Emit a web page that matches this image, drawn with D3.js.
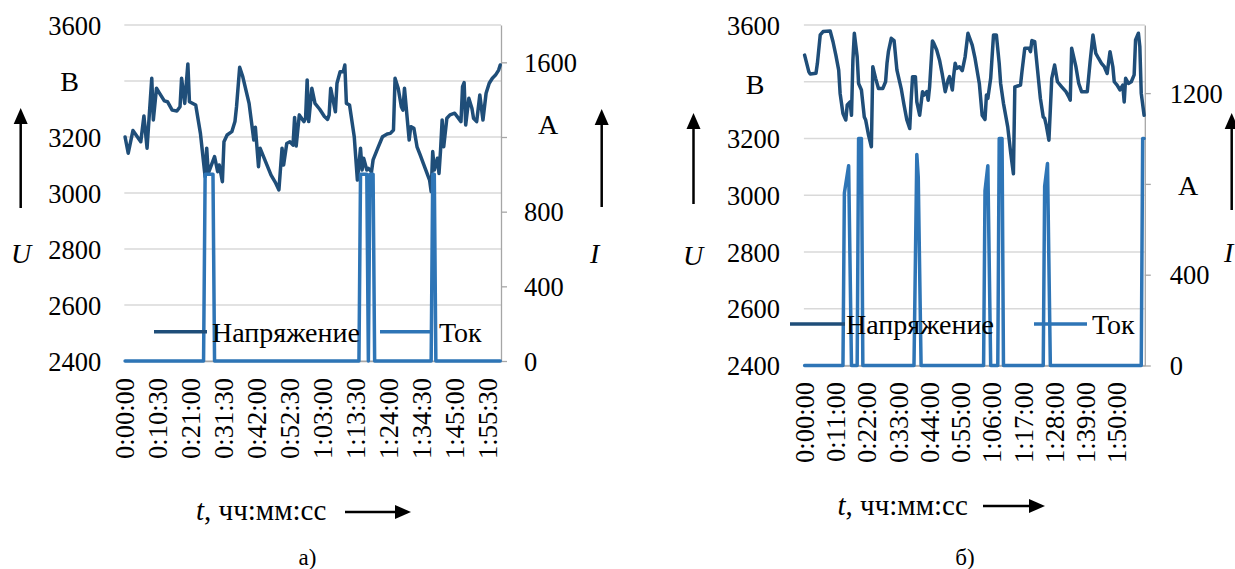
<!DOCTYPE html>
<html>
<head>
<meta charset="utf-8">
<title>Напряжение и ток</title>
<script src="https://cdn.jsdelivr.net/npm/d3@7"></script>
<style>
  body { margin: 0; background: #fff; }
  svg { display: block; }
  .grid { stroke: #d9d9d9; stroke-width: 1.5px; }
  .axis-grey { stroke: #a6a6a6; stroke-width: 1.3px; }
  .series { fill: none; stroke-width: 3.5px; stroke-linejoin: round; stroke-linecap: round; }
  text.lbl { font-family: "Liberation Serif", "Times New Roman", "DejaVu Serif", serif; font-size: 26.5px; fill: #000; }
  text.leg { font-size: 28px; }
  text.unit { font-size: 28px; }
  text.ttl { font-size: 29px; }
  text.cap { font-size: 23px; }
</style>
</head>
<body>
<svg id="chart" width="1235" height="569"></svg>
<script>

// ---- panel a) ----
var tickLabelsA = ["0:00:00","0:10:30","0:21:00","0:31:30","0:42:00","0:52:30",
                   "1:03:00","1:13:30","1:24:00","1:34:30","1:45:00","1:55:30"];

// voltage, seconds / volts
var uTimeA = [0,60,150,210,300,360,420,510,540,600,660,750,810,900,990,1050,1080,1140,1200,1230,
              1350,1440,1530,1560,1590,1710,1770,1800,1860,1890,1950,2040,2100,2130,2190,2250,2370,2460,2490,2550,
              2580,2790,2880,2940,3000,3030,3090,3150,3210,3240,3270,3330,3360,3420,3450,3480,3510,3570,3630,3720,
              3810,3870,3900,3930,4020,4050,4110,4170,4200,4230,4290,4380,4440,4500,4530,4560,4620,4650,4710,4740,
              4830,4920,5010,5070,5130,5160,5220,5280,5310,5340,5430,5460,5520,5580,5640,5700,5820,5850,5880,5910,
              5970,6000,6030,6060,6090,6150,6210,6300,6360,6420,6450,6480,6510,6570,6630,6660,6720,6780,6840,6900,
              6960,7020,7080,7140,7170];
var uVoltA = [3200,3142,3223,3207,3183,3275,3160,3410,3261,3374,3356,3329,3326,3296,3293,3308,3410,3320,3461,3326,
              3314,3213,3058,3160,3070,3130,3076,3100,3040,3183,3207,3219,3255,3308,3449,3415,3320,3189,3235,3094,
              3160,3064,3035,3011,3160,3100,3177,3183,3171,3270,3168,3279,3270,3255,3267,3404,3255,3374,3320,3299,
              3273,3263,3279,3374,3290,3392,3433,3433,3457,3320,3314,3201,3046,3160,3082,3124,3082,3088,3076,3118,
              3160,3201,3211,3213,3225,3410,3374,3308,3296,3374,3189,3237,3231,3165,3136,3106,3046,3005,3148,3082,
              3124,3070,3154,3261,3165,3267,3279,3285,3270,3255,3380,3394,3243,3338,3302,3267,3255,3350,3261,3356,
              3392,3410,3421,3439,3457];

// current, seconds / amperes
var iTimeA = [0,1500,1530,1680,1710,4470,4500,4620,4650,4680,4740,4770,5850,5880,5910,5940,7170];
var iValA  = [0,0,1000,1000,0,0,1000,1000,0,1000,1000,0,0,1000,1000,0,0];

// ---- panel б) ----
var tickLabelsB = ["0:00:00","0:11:00","0:22:00","0:33:00","0:44:00","0:55:00",
                   "1:06:00","1:17:00","1:28:00","1:39:00","1:50:00"];

var uTimeB = [0,90,120,240,270,330,390,540,600,660,720,750,810,870,900,960,990,1020,1050,1110,
              1140,1200,1260,1290,1350,1410,1440,1500,1560,1650,1710,1740,1770,1830,1890,1950,2040,2100,2160,2220,
              2250,2280,2340,2370,2430,2490,2520,2580,2610,2640,2700,2730,2790,2850,2910,2970,3030,3060,3120,3150,
              3180,3210,3270,3330,3390,3450,3540,3600,3690,3750,3810,3840,3870,3930,3990,4050,4110,4140,4200,4290,
              4350,4410,4440,4500,4560,4590,4650,4740,4770,4800,4860,4920,4980,5040,5070,5100,5160,5220,5280,5340,
              5430,5520,5580,5610,5640,5730,5790,5850,5970,6030,6090,6150,6210,6270,6330,6390,6450,6510,6540,6600,
              6660,6720,6750,6780,6840,6900,6960,6990,7050,7080,7110,7170];
var uVoltB = [3494,3435,3427,3430,3465,3565,3577,3579,3541,3494,3441,3359,3288,3265,3318,3329,3282,3476,3571,3488,
              3394,3371,3276,3265,3212,3171,3453,3412,3376,3376,3400,3465,3506,3553,3545,3441,3376,3318,3265,3235,
              3335,3418,3418,3329,3282,3365,3353,3365,3335,3382,3544,3535,3512,3476,3424,3365,3406,3418,3371,3424,
              3465,3447,3453,3439,3488,3571,3529,3482,3394,3282,3267,3353,3341,3412,3565,3565,3465,3394,3324,3241,
              3153,3076,3382,3385,3388,3435,3518,3518,3506,3545,3541,3441,3341,3276,3271,3250,3194,3412,3459,3400,
              3382,3365,3347,3335,3518,3453,3394,3365,3365,3471,3565,3500,3482,3465,3453,3429,3506,3453,3400,3388,
              3371,3388,3329,3412,3394,3400,3424,3547,3571,3524,3359,3282];

var iTimeB = [0,810,840,930,990,1110,1140,1200,1230,2310,2370,2400,2460,3780,3810,3870,3930,
              4080,4110,4170,4200,5040,5070,5130,5190,7110,7140,7170];
var iValB  = [0,0,760,880,0,0,1000,1000,0,0,930,830,0,0,770,880,0,
              0,1000,1000,0,0,790,890,0,0,1000,1000];

// shared
var uTicks = [2400,2600,2800,3000,3200,3400,3600];
var iTicksA = [0,400,800,1200,1600];
var iTicksB = [0,400,800,1200];
var seriesNames = ["Напряжение", "Ток"];

var colorU = "#1f4e79", colorI = "#2e75b6";

var svg = d3.select("#chart");

function toSec(s) {
  var p = s.split(":").map(Number);
  return p[0] * 3600 + p[1] * 60 + p[2];
}

function arrowUp(g, x, tip, tail) {
  g.append("line").attr("x1", x).attr("x2", x).attr("y1", tail).attr("y2", tip + 12)
    .attr("stroke", "#000").attr("stroke-width", 2.5);
  g.append("path").attr("d", "M" + x + "," + tip + "L" + (x - 7) + "," + (tip + 16) + "L" + (x + 7) + "," + (tip + 16) + "Z")
    .attr("fill", "#000");
}

function arrowRight(g, x1, x2, y) {
  g.append("line").attr("x1", x1).attr("x2", x2 - 12).attr("y1", y).attr("y2", y)
    .attr("stroke", "#000").attr("stroke-width", 2.5);
  g.append("path").attr("d", "M" + x2 + "," + y + "L" + (x2 - 16) + "," + (y - 7) + "L" + (x2 - 16) + "," + (y + 7) + "Z")
    .attr("fill", "#000");
}

function drawPanel(p) {
  var g = svg.append("g");

  var x = d3.scaleLinear().domain([-15, 7185]).range([p.left, p.right]);
  var yU = d3.scaleLinear().domain([2400, 3600]).range([p.bottom, p.top]);
  var yI = d3.scaleLinear().domain([0, p.iMax]).range([p.bottom, p.top]);

  // gridlines
  g.selectAll("line.grid").data(uTicks).enter().append("line")
    .attr("class", "grid")
    .attr("x1", p.left).attr("x2", p.right)
    .attr("y1", function(d) { return yU(d); }).attr("y2", function(d) { return yU(d); });

  // left axis (labels only); 3400 sits under the unit letter "В"
  var axL = g.append("g").attr("transform", "translate(" + p.left + ",0)")
    .call(d3.axisLeft(yU).tickValues(uTicks).tickSize(0).tickPadding(p.padL)
      .tickFormat(function(d) { return d === 3400 ? "" : d3.format("d")(d); }));
  axL.attr("font-family", null).attr("font-size", null);
  axL.select(".domain").remove();
  axL.selectAll("text").attr("class", "lbl").attr("dy", "0.34em");

  // right axis
  var axR = g.append("g").attr("transform", "translate(" + p.right + ",0)")
    .call(d3.axisRight(yI).tickValues(p.iTicks).tickSize(6).tickSizeOuter(0).tickPadding(p.padR)
      .tickFormat(function(d) { return d === p.iHidden ? "" : d3.format("d")(d); }));
  axR.attr("font-family", null).attr("font-size", null);
  axR.select(".domain").attr("class", "domain axis-grey");
  axR.selectAll(".tick line").attr("class", "axis-grey");
  axR.selectAll("text").attr("class", "lbl").attr("dy", "0.34em");

  // bottom axis line + rotated time labels
  var tickSecs = p.ticks.map(toSec);
  var axB = g.append("g").attr("transform", "translate(0," + p.bottom + ")")
    .call(d3.axisBottom(x).tickValues(tickSecs).tickSize(0).tickSizeOuter(0)
      .tickFormat(function(d, i) { return p.ticks[i]; }));
  axB.attr("font-family", null).attr("font-size", null);
  axB.select(".domain").attr("class", "domain axis-grey");
  axB.selectAll("text").attr("class", "lbl")
    .attr("transform", "rotate(-90)")
    .attr("text-anchor", "end")
    .attr("x", -p.gapX).attr("y", 0).attr("dy", "0.33em");

  // series
  var line = d3.line().x(function(d) { return x(d[0]); });
  g.append("path").datum(d3.zip(p.uTime, p.uVal))
    .attr("class", "series").attr("stroke", colorU)
    .attr("d", line.y(function(d) { return yU(d[1]); }));
  g.append("path").datum(d3.zip(p.iTime, p.iVal))
    .attr("class", "series").attr("stroke", colorI)
    .attr("d", line.y(function(d) { return yI(d[1]); }));

  // legend
  var leg = g.append("g");
  [colorU, colorI].forEach(function(c, i) {
    var L = p.legend[i];
    leg.append("line").attr("x1", L[0]).attr("x2", L[1]).attr("y1", p.legY).attr("y2", p.legY)
      .attr("stroke", c).attr("stroke-width", 3.5);
    leg.append("text").attr("class", "lbl leg").attr("x", L[2]).attr("y", p.legY + 10)
      .text(seriesNames[i]);
  });

  // axis titles and arrows
  g.append("text").attr("class", "lbl unit").attr("x", p.B[0]).attr("y", p.B[1]).attr("text-anchor", "middle").text("В");
  g.append("text").attr("class", "lbl unit").attr("x", p.U[0]).attr("y", p.U[1]).attr("text-anchor", "middle")
    .style("font-style", "italic").text("U");
  arrowUp(g, p.arrL[0], p.arrL[1], p.arrL[2]);

  g.append("text").attr("class", "lbl unit").attr("x", p.A[0]).attr("y", p.A[1]).attr("text-anchor", "middle").text("А");
  g.append("text").attr("class", "lbl unit").attr("x", p.I[0]).attr("y", p.I[1])
    .style("font-style", "italic").text("I");
  arrowUp(g, p.arrR[0], p.arrR[1], p.arrR[2]);

  var tt = g.append("text").attr("class", "lbl ttl").attr("x", p.tTitle[0]).attr("y", p.tTitle[1]);
  tt.append("tspan").style("font-style", "italic").text("t");
  tt.append("tspan").text(", чч:мм:сс");
  arrowRight(g, p.arrT[0], p.arrT[1], p.arrT[2]);

  g.append("text").attr("class", "lbl cap")
    .attr("x", p.cap[0]).attr("y", p.cap[1]).attr("text-anchor", "middle").text(p.capText);
}

drawPanel({
  left: 124.3, right: 501, top: 25, bottom: 361,
  iMax: 1800, iTicks: iTicksA, iHidden: 1200, padL: 23, padR: 17, gapX: 17,
  ticks: tickLabelsA, uTime: uTimeA, uVal: uVoltA, iTime: iTimeA, iVal: iValA,
  legY: 331.7, legend: [[154, 207, 212], [380, 430, 439]],
  B: [69.5, 91], U: [21, 263], arrL: [20.7, 108, 208],
  A: [548, 134], I: [590, 263], arrR: [601.7, 109, 207],
  tTitle: [196, 520], arrT: [345, 411, 512],
  cap: [307.5, 565], capText: "а)"
});

drawPanel({
  left: 803.9, right: 1144.8, top: 25, bottom: 365.5,
  iMax: 1500, iTicks: iTicksB, iHidden: 800, padL: 24, padR: 19, gapX: 16.5,
  ticks: tickLabelsB, uTime: uTimeB, uVal: uVoltB, iTime: iTimeB, iVal: iValB,
  legY: 324, legend: [[790, 845, 846], [1034, 1087, 1092]],
  B: [755, 94], U: [693, 265], arrL: [693.5, 113, 204],
  A: [1188, 195], I: [1224, 262], arrR: [1231.7, 113, 210],
  tTitle: [837.5, 515], arrT: [983, 1045, 506],
  cap: [965, 565], capText: "б)"
});

</script>
</body>
</html>
